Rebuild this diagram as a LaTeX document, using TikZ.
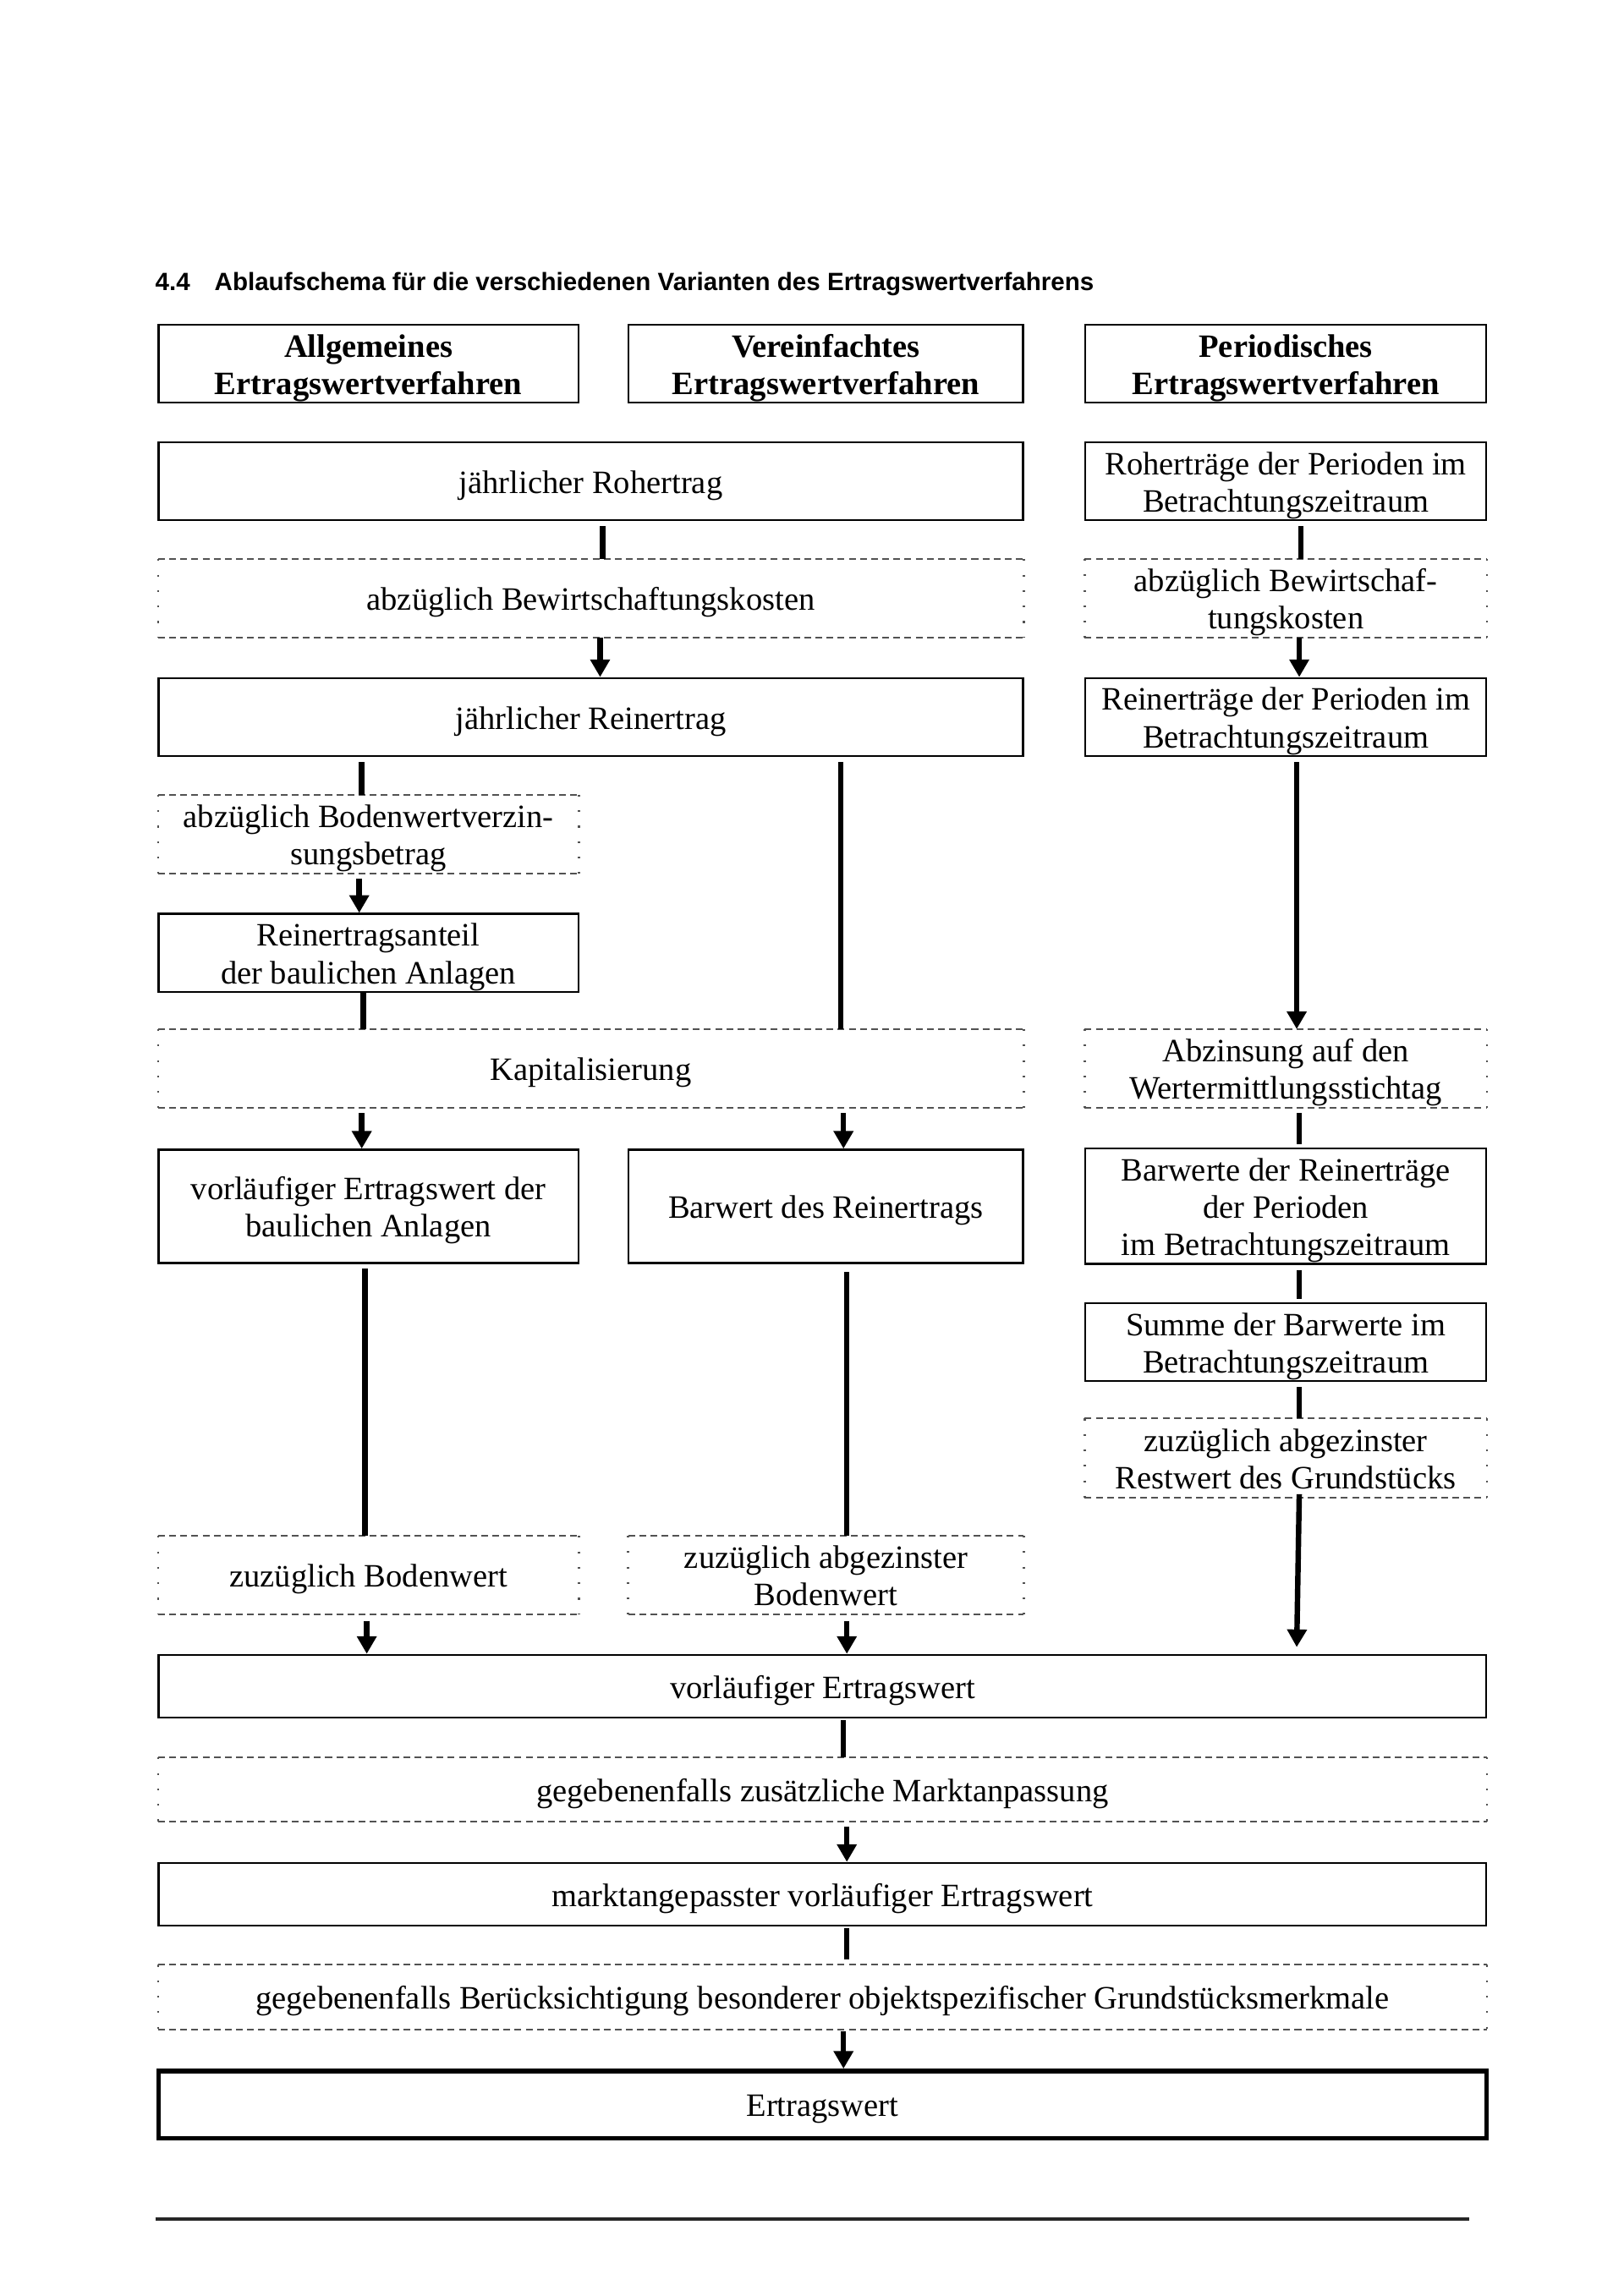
\documentclass[tikz,border=0pt]{standalone}
\usepackage{fontspec}
\setmainfont{Liberation Serif}
\newfontfamily\titlefont{Liberation Sans}
\usetikzlibrary{arrows.meta,calc}
\def\pxu{0.108546mm}
\newcommand\xsA{\rule{0pt}{11.8pt}}
\newcommand\xsB{\rule[-3pt]{0pt}{3pt}}
\begin{document}
\begin{tikzpicture}[x=0.108546mm,y=-0.108546mm,
  wh/.style 2 args={minimum width=#1*\pxu, minimum height=#2*\pxu},
  txt/.style={inner sep=0pt, align=center, font=\fontsize{12}{13.8}\selectfont},
  sbox/.style={txt, draw, line width=0.7pt},
  hbox/.style={sbox, font=\bfseries\fontsize{12}{13.8}\selectfont},
  fbox/.style={sbox, line width=1.7pt},
  hd/.style={draw=black!68, line width=0.6pt, dash pattern=on 2.5pt off 1.6pt},
  vd/.style={draw=black!68, line width=0.8pt, dash pattern=on 0.7pt off 5pt},
  dbox/.style={txt, append after command={\pgfextra{
      \draw[hd] (\tikzlastnode.north west) -- (\tikzlastnode.north east);
      \draw[hd] (\tikzlastnode.south west) -- (\tikzlastnode.south east);
      \draw[vd] (\tikzlastnode.north west) -- (\tikzlastnode.south west);
      \draw[vd] (\tikzlastnode.north east) -- (\tikzlastnode.south east);}}},
  conn/.style={line width=2pt},
  arr/.style={conn, -{Triangle[width=7pt,length=6.5pt]}},
  ttl/.style={anchor=base west, inner sep=0pt, font=\titlefont\bfseries\fontsize{9.2}{11}\selectfont}
]
\useasboundingbox (0,0) rectangle (1934.95,2736.15);

% title
\node[ttl] (tnum) at (184.4,345.7) {4.4};
\node[ttl] (title) at (255,345.7) {Ablaufschema für die verschiedenen Varianten des Ertragswertverfahrens};

\begin{scope}[xshift=2*\pxu]
% headers
\node[hbox, wh={500}{93}] (h1) at (437,433.5) {\xsA Allgemeines\\Ertragswertverfahren\xsB};
\node[hbox, wh={470}{93}] (h2) at (982,433.5) {\xsA Vereinfachtes\\Ertragswertverfahren\xsB};
\node[hbox, wh={478}{93}] (h3) at (1530,433.5) {\xsA Periodisches\\Ertragswertverfahren\xsB};

% rows
\node[sbox, wh={1030}{93}] (roh) at (702,573.5) {\xsA jährlicher Rohertrag\xsB};
\node[sbox, wh={478}{93}] (rohP) at (1530,573.5) {\xsA Roherträge der Perioden im\\Betrachtungszeitraum\xsB};
\node[dbox, wh={1030}{92}] (bew) at (702,713) {\xsA abzüglich Bewirtschaftungskosten\xsB};
\node[dbox, wh={478}{92}] (bewP) at (1530,713) {\xsA abzüglich Bewirtschaf-\\tungskosten\xsB};
\node[sbox, wh={1030}{93}] (rein) at (702,854.5) {\xsA jährlicher Reinertrag\xsB};
\node[sbox, wh={478}{93}] (reinP) at (1530,854.5) {\xsA Reinerträge der Perioden im\\Betrachtungszeitraum\xsB};
\node[dbox, wh={500}{92}] (bzv) at (437,994) {\xsA abzüglich Bodenwertverzin-\\sungsbetrag\xsB};
\node[sbox, wh={500}{93}] (rea) at (437,1135.5) {\xsA Reinertragsanteil\\der baulichen Anlagen\xsB};
\node[dbox, wh={1030}{93}] (kap) at (702,1273.5) {\xsA Kapitalisierung\xsB};
\node[dbox, wh={478}{93}] (abz) at (1530,1273.5) {\xsA Abzinsung auf den\\Wertermittlungsstichtag\xsB};
\node[sbox, wh={500}{135}] (vew) at (437,1437.5) {\xsA vorläufiger Ertragswert der\\baulichen Anlagen\xsB};
\node[sbox, wh={470}{135}] (bar) at (982,1437.5) {\xsA Barwert des Reinertrags\xsB};
\node[sbox, wh={478}{135}] (barP) at (1530,1437.5) {\xsA Barwerte der Reinerträge\\der Perioden\\im Betrachtungszeitraum\xsB};
\node[sbox, wh={478}{93}] (sum) at (1530,1599.5) {\xsA Summe der Barwerte im\\Betrachtungszeitraum\xsB};
\node[dbox, wh={478}{93}] (rest) at (1530,1737.5) {\xsA zuzüglich abgezinster\\Restwert des Grundstücks\xsB};
\node[dbox, wh={500}{92}] (bod) at (437,1877) {\xsA zuzüglich Bodenwert\xsB};
\node[dbox, wh={470}{92}] (abod) at (982,1877) {\xsA zuzüglich abgezinster\\Bodenwert\xsB};
\node[sbox, wh={1582}{75}] (vorl) at (978,2009.5) {\xsA vorläufiger Ertragswert\xsB};
\node[dbox, wh={1582}{75}] (markt) at (978,2132.5) {\xsA gegebenenfalls zusätzliche Marktanpassung\xsB};
\node[sbox, wh={1582}{75}] (mvew) at (978,2257.5) {\xsA marktangepasster vorläufiger Ertragswert\xsB};
\node[dbox, wh={1582}{76}] (bes) at (978,2380) {\xsA gegebenenfalls Berücksichtigung besonderer objektspezifischer Grundstücksmerkmale\xsB};
\node[fbox, wh={1582}{80}] (ew) at (978,2508) {\xsA Ertragswert\xsB};

% x positions of connectors
\coordinate (xA) at (716,0);
\coordinate (xB) at (713,0);
\coordinate (xR1) at (1548,0);
\coordinate (xR2) at (1546,0);
\coordinate (xR3) at (1543,0);
\coordinate (xL1) at (429,0);
\coordinate (xL2) at (426,0);
\coordinate (xL3) at (431,0);
\coordinate (xL4) at (433,0);
\coordinate (xL5) at (435,0);
\coordinate (xM1) at (1000,0);
\coordinate (xM2) at (1003,0);
\coordinate (xM3) at (1007,0);

% connectors
\draw[conn] ($(roh.south -| xA)+(0,6)$) -- (bew.north -| xA);
\draw[arr] (bew.south -| xB) -- (rein.north -| xB);
\draw[conn] ($(rohP.south -| xR1)+(0,6)$) -- (bewP.north -| xR1);
\draw[arr] (bewP.south -| xR2) -- (reinP.north -| xR2);
\draw[conn] ($(rein.south -| xL1)+(0,6)$) -- (bzv.north -| xL1);
\draw[conn] ($(rein.south -| xM1)+(0,6)$) -- (kap.north -| xM1);
\draw[arr] ($(reinP.south -| xR3)+(0,6)$) -- (abz.north -| xR3);
\draw[arr] ($(bzv.south -| xL2)+(0,6)$) -- (rea.north -| xL2);
\draw[conn] (rea.south -| xL3) -- (kap.north -| xL3);
\draw[arr] ($(kap.south -| xL1)+(0,6)$) -- (vew.north -| xL1);
\draw[arr] ($(kap.south -| xM2)+(0,6)$) -- (bar.north -| xM2);
\draw[conn] ($(abz.south -| xR2)+(0,6)$) -- ($(barP.north -| xR2)+(0,-4)$);
\draw[conn] ($(vew.south -| xL4)+(0,6)$) -- (bod.north -| xL4);
\draw[conn] ($(bar.south -| xM3)+(0,10)$) -- (abod.north -| xM3);
\draw[conn] ($(barP.south -| xR2)+(0,6)$) -- ($(sum.north -| xR2)+(0,-4)$);
\draw[conn] ($(sum.south -| xR2)+(0,6)$) -- (rest.north -| xR2);
\draw[arr] ($(rest.south -| xR2)+(0,-4)$) -- ($(vorl.north -| xR3)+(0,-8)$);
\draw[arr] ($(bod.south -| xL5)+(0,8)$) -- (vorl.north -| xL5);
\draw[arr] ($(abod.south -| xM3)+(0,8)$) -- (vorl.north -| xM3);
\draw[conn] ($(vorl.south -| xM2)+(0,2)$) -- (markt.north -| xM2);
\draw[arr] ($(markt.south -| xM3)+(0,6)$) -- (mvew.north -| xM3);
\draw[conn] ($(mvew.south -| xM3)+(0,2)$) -- ($(bes.north -| xM3)+(0,-6)$);
\draw[arr] ($(bes.south -| xM2)+(0,2)$) -- (ew.north -| xM2);
\end{scope}

% bottom rule
\coordinate (r1) at (185,2644);
\coordinate (r2) at (1751,2644);
\draw[line width=1.2pt, black!85] (r1) -- (r2);
\end{tikzpicture}
\end{document}
